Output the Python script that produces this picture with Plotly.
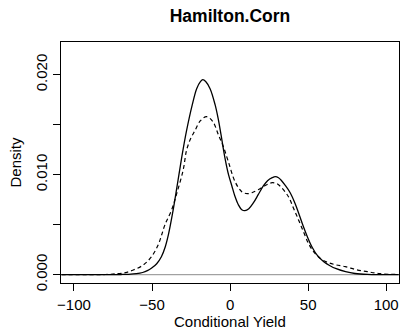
import plotly.graph_objects as go

# Density estimates of conditional yield (solid and dashed curves)
solid_x = [-108, -85, -75, -70, -65, -60, -56, -53, -50, -47, -44, -41.5, -39.5, -37,
           -34, -31, -28, -24.2, -21.4, -19, -17.5, -15.5, -12.8, -9.6, -7.5, -5.8,
           -3.2, -1, 1.1, 3, 5.3, 7.5, 9.5, 12, 15, 18, 21.4, 24, 27, 29, 31, 33, 35,
           38.5, 41.7, 44.5, 47, 49.5, 52.4, 56, 60, 64, 68, 74, 80, 88, 108]
solid_y = [0, 0, 0.00001, 0.00002, 0.00004, 0.0001, 0.00022, 0.0004, 0.0007, 0.0011,
           0.0018, 0.0028, 0.0040, 0.0060, 0.0088, 0.0117, 0.0143, 0.0170, 0.0186,
           0.0193, 0.0195, 0.0193, 0.0186, 0.0170, 0.0155, 0.0140, 0.0116, 0.0100,
           0.0089, 0.0079, 0.0070, 0.0065, 0.0064, 0.0066, 0.0072, 0.0080, 0.0089,
           0.0094, 0.0097, 0.0098, 0.0097, 0.0094, 0.0090, 0.0082, 0.0071, 0.0059,
           0.0048, 0.0038, 0.0028, 0.0019, 0.0013, 0.0009, 0.0006, 0.0003, 0.00012,
           0.00003, 0]

dashed_x = [-108, -90, -80, -72, -67, -62, -55.6, -50.3, -46, -43.8, -41.7, -37.4,
            -34.2, -30, -27.8, -25, -22.5, -19, -15, -11, -7.5, -4.3, -1.1, 3.2, 7.5,
            11, 14, 18, 23.5, 27, 30, 33, 37.4, 40.5, 43.8, 47, 50.3, 54, 58.9, 63,
            67.4, 73.8, 81, 88, 96, 108]
dashed_y = [0, 0.000005, 0.00002, 0.0001, 0.0002, 0.00047, 0.00097, 0.0018, 0.0030,
            0.0040, 0.0050, 0.0065, 0.0081, 0.0105, 0.0125, 0.0137, 0.0144, 0.0154,
            0.0158, 0.0153, 0.0140, 0.0128, 0.0113, 0.0093, 0.0083, 0.0081, 0.0082,
            0.0085, 0.0090, 0.0092, 0.0091, 0.0087, 0.0078, 0.0067, 0.0055, 0.0043,
            0.0031, 0.0022, 0.0015, 0.0012, 0.0010, 0.0008, 0.0005, 0.0003, 0.0001,
            0.00002]

x_ticks = [-100, -50, 0, 50, 100]
x_labels = ["\u2212100", "\u221250", "0", "50", "100"]
y_ticks = [0, 0.005, 0.010, 0.015, 0.020]
y_labels = ["0.000", "", "0.010", "", "0.020"]

FONT = "Liberation Sans, Arial, sans-serif"

fig = go.Figure()
fig.add_trace(go.Scatter(x=solid_x, y=solid_y, mode="lines",
                         line=dict(color="black", width=1.3, shape="spline", smoothing=1),
                         hoverinfo="skip"))
fig.add_trace(go.Scatter(x=dashed_x, y=dashed_y, mode="lines",
                         line=dict(color="black", width=1.2, dash="4px,3px",
                                   shape="spline", smoothing=1),
                         hoverinfo="skip"))

# zero reference line across the panel
fig.add_shape(type="line", xref="paper", x0=0, x1=1, yref="y", y0=0, y1=0,
              line=dict(color="#8c8c8c", width=1), layer="below")

fig.update_layout(
    width=400, height=334,
    margin=dict(l=61, r=1, t=42, b=51),
    paper_bgcolor="white", plot_bgcolor="white",
    showlegend=False,
    font=dict(family=FONT, size=15, color="black"),
    title=dict(text="<b>Hamilton.Corn</b>", x=0.5, xref="paper", xanchor="center",
               y=1 - 16 / 334, yref="container", yanchor="middle",
               font=dict(family=FONT, size=17.5, color="black")),
    xaxis=dict(range=[-108.3, 108.2], tickvals=x_ticks, ticktext=x_labels,
               ticks="outside", ticklen=7, tickwidth=1, tickcolor="black",
               ticklabelstandoff=1,
               showline=True, linecolor="black", linewidth=1, mirror=True,
               showgrid=False, zeroline=False, fixedrange=True),
    yaxis=dict(range=[-0.00083, 0.02327], tickvals=y_ticks, ticktext=y_labels,
               tickangle=-90,
               ticks="outside", ticklen=7, tickwidth=1, tickcolor="black",
               showline=True, linecolor="black", linewidth=1, mirror=True,
               showgrid=False, zeroline=False, fixedrange=True),
    annotations=[
        dict(text="Conditional Yield", xref="paper", yref="paper", x=0.5, y=0,
             xanchor="center", yanchor="middle", yshift=-38, showarrow=False,
             font=dict(family=FONT, size=15, color="black")),
        dict(text="Density", xref="paper", yref="paper", x=0, y=0.5,
             xanchor="center", yanchor="middle", xshift=-46, textangle=-90,
             showarrow=False, font=dict(family=FONT, size=15, color="black")),
    ],
)

fig.write_html("out.html", config={"displayModeBar": False})
